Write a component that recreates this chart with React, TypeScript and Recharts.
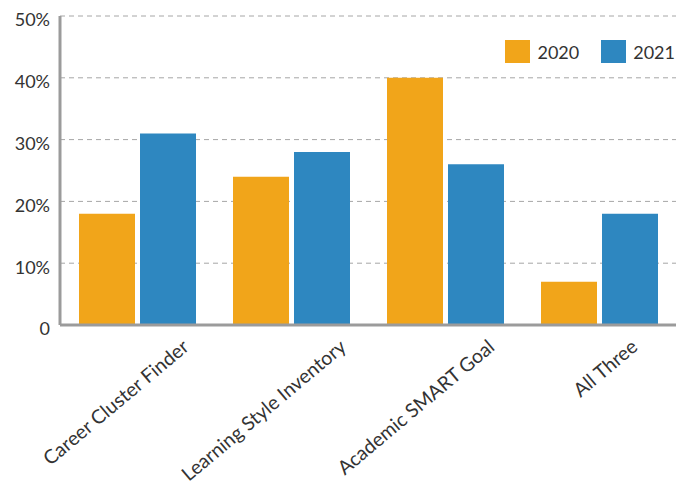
import { BarChart, Bar, XAxis, YAxis, CartesianGrid } from "recharts";

const categories = [
  "Career Cluster Finder",
  "Learning Style Inventory",
  "Academic SMART Goal",
  "All Three",
];
const values2020 = [18, 24, 40, 7];
const values2021 = [31, 28, 26, 18];
const yTicks = [0, 10, 20, 30, 40, 50];
const seriesNames = ["2020", "2021"];

const ORANGE = "#F1A51A";
const BLUE = "#2E87C0";
const FONT = "Lato, 'Open Sans', sans-serif";

const data = categories.map((name, i) => ({
  name,
  y2020: values2020[i],
  y2021: values2021[i],
}));

function XTick(props: any) {
  const { x, y, payload } = props;
  const label = String(payload.value);
  // longer labels sit a bit further right, as in the source
  const shift = 30 + label.length * 1.1;
  return (
    <g transform={`translate(${x + shift},${y + 16})`}>
      <text
        transform="rotate(-40)"
        textAnchor="end"
        fill="#333"
        fontSize={19.5}
        fontFamily={FONT}
      >
        {label}
      </text>
    </g>
  );
}

function YTick(props: any) {
  const { x, y, payload } = props;
  const v = payload.value;
  return (
    <text
      x={x}
      y={y + 4}
      dy="0.355em"
      textAnchor="end"
      fill="#333"
      fontSize={18}
      fontFamily={FONT}
    >
      {v === 0 ? "0" : `${v}%`}
    </text>
  );
}

function LegendBox() {
  const colors = [ORANGE, BLUE];
  return (
    <div
      style={{
        position: "absolute",
        top: 40,
        right: 3,
        display: "flex",
        alignItems: "center",
        fontFamily: FONT,
      }}
    >
      {seriesNames.map((label, i) => (
        <div
          key={label}
          style={{ display: "flex", alignItems: "center", marginLeft: 22 }}
        >
          <span
            style={{
              display: "inline-block",
              width: 25,
              height: 23,
              background: colors[i],
              marginRight: 7,
            }}
          />
          <span style={{ fontSize: 18, color: "#333" }}>{label}</span>
        </div>
      ))}
    </div>
  );
}

export default function App() {
  return (
    <div
      style={{
        position: "fixed",
        left: 0,
        top: 0,
        width: 678,
        height: 485,
        background: "#fff",
      }}
    >
      <BarChart
        width={678}
        height={485}
        data={data}
        margin={{ top: 16, right: 2, left: 0, bottom: 0 }}
        barCategoryGap={19}
        barGap={5}
      >
        <CartesianGrid
          vertical={false}
          stroke="#a6a6a6"
          strokeDasharray="5 4"
        />
        <XAxis
          dataKey="name"
          height={160}
          tickLine={false}
          interval={0}
          axisLine={{ stroke: "#9b9b9b", strokeWidth: 3 }}
          tick={<XTick />}
        />
        <YAxis
          width={60}
          domain={[0, 50]}
          ticks={yTicks}
          tickLine={false}
          tickSize={0}
          tickMargin={10}
          axisLine={{ stroke: "#9b9b9b", strokeWidth: 3 }}
          tick={<YTick />}
        />
        <Bar dataKey="y2020" name="2020" fill={ORANGE} barSize={56} isAnimationActive={false} />
        <Bar dataKey="y2021" name="2021" fill={BLUE} barSize={56} isAnimationActive={false} />
      </BarChart>
      <LegendBox />
    </div>
  );
}
